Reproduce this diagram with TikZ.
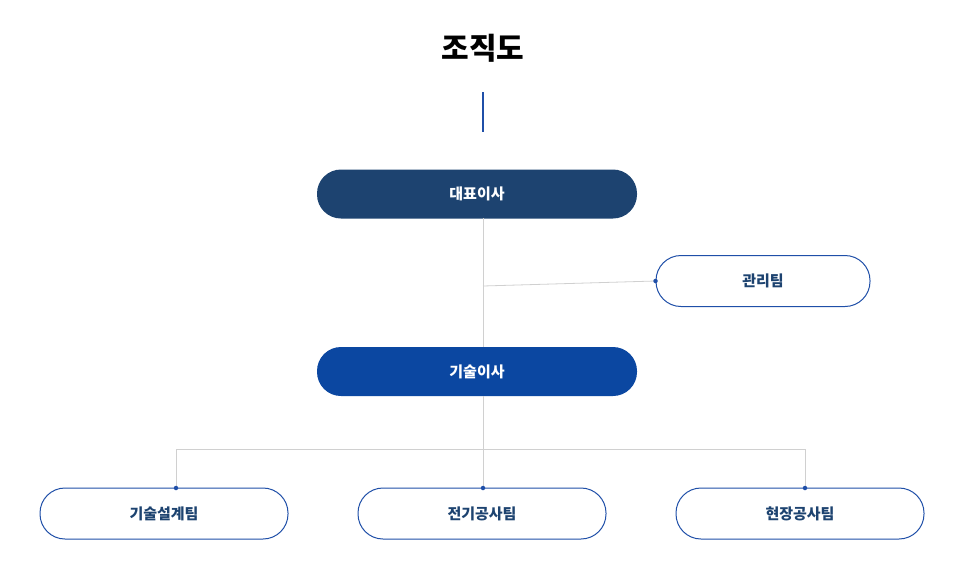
\documentclass[tikz,border=0pt]{standalone}
\usepackage{fontspec}
\setmainfont{Noto Sans CJK KR}
\definecolor{navy}{HTML}{1D4370}
\definecolor{royal}{HTML}{0B47A1}
\definecolor{bline}{HTML}{1F4FA8}
\definecolor{gline}{HTML}{D0D0D0}
\begin{document}
\begin{tikzpicture}[x=1pt,y=-1pt,
  filled/.style={rounded corners=24pt,minimum width=320pt,minimum height=49pt,text=white,font=\bfseries\fontsize{15}{18}\selectfont},
  outl/.style={draw=bline,line width=1pt,fill=white,rounded corners=25pt,minimum height=51pt,text=navy,font=\bfseries\fontsize{15}{18}\selectfont},
  conn/.style={draw=gline,line width=0.8pt},
  dot/.style={circle,fill=bline,inner sep=0pt,minimum size=4.5pt}]
\useasboundingbox (0,0) rectangle (966,587);
\node (title) at (483,48) {\bfseries\fontsize{30}{36}\selectfont 조직도};
\coordinate (t1) at (483,92);
\coordinate (t2) at (483,132);
\draw[bline,line width=1.6pt] (t1) -- (t2);
\node[filled,fill=navy] (ceo) at (477,194) {대표이사};
\node[outl,minimum width=214pt] (adm) at (763,281) {관리팀};
\node[filled,fill=royal] (cto) at (477,371.5) {기술이사};
\node[outl,minimum width=248pt] (b1) at (164,513.5) {기술설계팀};
\node[outl,minimum width=248pt] (b2) at (482,513.5) {전기공사팀};
\node[outl,minimum width=248pt] (b3) at (800,513.5) {현장공사팀};
\coordinate (j1) at (483,286);
\coordinate (j2) at (483,449);
\coordinate (l1) at (176,449);
\coordinate (l3) at (805,449);
\draw[conn] (483,218) -- (483,347);
\draw[conn] (j1) -- (adm.west);
\draw[conn] (483,396) -- (483,488);
\draw[conn] (l1) -- (l3);
\draw[conn] (l1) -- (176,488);
\draw[conn] (l3) -- (805,488);
\node[dot] at (adm.west) {};
\node[dot] at (176,488) {};
\node[dot] at (483,488) {};
\node[dot] at (805,488) {};
\end{tikzpicture}
\end{document}
